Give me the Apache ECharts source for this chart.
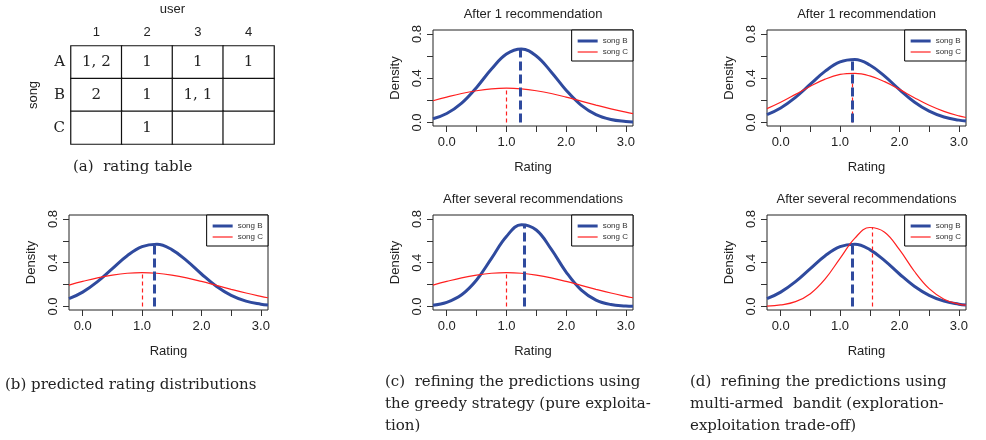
<!DOCTYPE html>
<html>
<head>
<meta charset="utf-8">
<script src="https://cdn.jsdelivr.net/npm/echarts@6/dist/echarts.min.js"></script>
<style>
html, body { margin: 0; padding: 0; background: #fff; }
#main { width: 986px; height: 440px; }
</style>
</head>
<body>
<div id="main"></div>
<script>
var dom = document.getElementById('main');
var myChart = echarts.init(dom, null, { renderer: 'canvas' });

// rating table
const users = ['1', '2', '3', '4'];
const songs = ['A', 'B', 'C'];
const ratings = [
    ['1, 2', '1', '1', '1'],
    ['2', '1', '1, 1', ''],
    ['', '1', '', '']
];

// density curves
const ratingX = [-0.23, 0, 0.25, 0.5, 0.75, 1, 1.25, 1.5, 1.75, 2, 2.25, 2.5, 2.75, 3, 3.12];
const predB    = [0.071, 0.131, 0.227, 0.346, 0.464, 0.547, 0.569, 0.520, 0.419, 0.297, 0.185, 0.102, 0.049, 0.021, 0.013];
const predC    = [0.196, 0.229, 0.262, 0.287, 0.304, 0.310, 0.304, 0.287, 0.262, 0.229, 0.193, 0.157, 0.123, 0.093, 0.080];
const greedy1B = [0.034, 0.081, 0.175, 0.317, 0.483, 0.618, 0.664, 0.601, 0.457, 0.292, 0.157, 0.071, 0.027, 0.009, 0.005];
const greedyNB = [0.012, 0.038, 0.107, 0.242, 0.440, 0.640, 0.747, 0.699, 0.524, 0.315, 0.152, 0.059, 0.018, 0.005, 0.002];
const bandit1C = [0.125, 0.182, 0.254, 0.328, 0.392, 0.434, 0.444, 0.421, 0.369, 0.299, 0.224, 0.155, 0.100, 0.059, 0.045];
const banditNC = [0.004, 0.014, 0.044, 0.117, 0.252, 0.440, 0.625, 0.722, 0.679, 0.519, 0.322, 0.163, 0.067, 0.022, 0.012];

// panels: b, c-top, c-bottom, d-top, d-bottom
const curvesB = [predB, greedy1B, greedyNB, predB, predB];
const curvesC = [predC, predC, predC, bandit1C, banditNC];
const meanB = [1.2, 1.23, 1.3, 1.2, 1.2];
const peakB = [0.57, 0.665, 0.75, 0.57, 0.57];
const meanC = [1.0, 1.0, 1.0, 1.2, 1.55];
const peakC = [0.31, 0.31, 0.31, 0.445, 0.725];
const panelTitles = ['', 'After 1 recommendation', 'After several recommendations', 'After 1 recommendation', 'After several recommendations'];

const xTicks = [0, 0.5, 1, 1.5, 2, 2.5, 3];
const xLabels = [0, 1, 2, 3];
const yTicks = [0, 0.2, 0.4, 0.6, 0.8];
const yLabels = [0, 0.4, 0.8];

const captions = [
    '(a)  rating table',
    '(b) predicted rating distributions',
    '(c)  refining the predictions using\nthe greedy strategy (pure exploita-\ntion)',
    '(d)  refining the predictions using\nmulti-armed  bandit (exploration-\nexploitation trade-off)'
];

const blue = '#2f4a9e';
const red = '#ff2020';
const sans = 'Liberation Sans, Arial, sans-serif';
const serif = 'DejaVu Serif, serif';

const boxes = [
    { left: 69, top: 215, width: 199, height: 95 },
    { left: 433, top: 30, width: 200, height: 96 },
    { left: 433, top: 215, width: 200, height: 95 },
    { left: 767, top: 30, width: 199, height: 96 },
    { left: 767, top: 215, width: 199, height: 95 }
];
const captionPos = [[73, 156], [5, 374], [385, 371], [690, 371]];

function pairs(ys) {
    return ratingX.map(function (x, i) { return [x, ys[i]]; });
}

var grid = [], xAxis = [], yAxis = [], series = [], legend = [], title = [];

boxes.forEach(function (b, i) {
    grid.push({
        left: b.left, top: b.top, width: b.width, height: b.height,
        show: true, borderColor: '#222', borderWidth: 1, backgroundColor: 'transparent'
    });
    xAxis.push({
        type: 'value', gridIndex: i, min: -0.23, max: 3.12,
        name: 'Rating', nameLocation: 'middle', nameGap: 35,
        nameTextStyle: { fontFamily: sans, fontSize: 13, color: '#222' },
        axisLine: { show: false, onZero: false },
        axisTick: { show: true, length: 6, customValues: xTicks, lineStyle: { color: '#333' } },
        axisLabel: {
            customValues: xLabels, margin: 10, fontFamily: sans, fontSize: 13, color: '#222',
            formatter: function (v) { return v.toFixed(1); }
        },
        splitLine: { show: false }
    });
    yAxis.push({
        type: 'value', gridIndex: i, min: -0.032, max: 0.836,
        name: 'Density', nameLocation: 'middle', nameGap: 31,
        nameTextStyle: { fontFamily: sans, fontSize: 13, color: '#222' },
        axisLine: { show: false, onZero: false },
        axisTick: { show: true, length: 6, customValues: yTicks, lineStyle: { color: '#333' } },
        axisLabel: {
            customValues: yLabels, rotate: 90, margin: 9, fontFamily: sans, fontSize: 13, color: '#222',
            formatter: function (v) { return v.toFixed(1); }
        },
        splitLine: { show: false }
    });
    series.push({
        name: 'song B', type: 'line', xAxisIndex: i, yAxisIndex: i,
        data: pairs(curvesB[i]), smooth: 0.4, symbol: 'none',
        lineStyle: { color: blue, width: 3 }, itemStyle: { color: blue },
        markLine: {
            silent: true, symbol: 'none', z: 6, label: { show: false },
            lineStyle: { color: blue, width: 3, type: [9, 4] },
            data: [[{ coord: [meanB[i], 0] }, { coord: [meanB[i], peakB[i]] }]]
        }
    });
    series.push({
        name: 'song C', type: 'line', xAxisIndex: i, yAxisIndex: i,
        data: pairs(curvesC[i]), smooth: 0.4, symbol: 'none',
        lineStyle: { color: red, width: 1.2 }, itemStyle: { color: red },
        markLine: {
            silent: true, symbol: 'none', z: 5, label: { show: false },
            lineStyle: { color: red, width: 1.2, type: [4, 3] },
            data: [[{ coord: [meanC[i], 0] }, { coord: [meanC[i], peakC[i]] }]]
        }
    });
    legend.push({
        data: [
            { name: 'song B', icon: 'path://M0,0h20v3H0z' },
            { name: 'song C', icon: 'path://M0,0h20v1.2H0z' }
        ],
        orient: 'vertical',
        right: 986 - (b.left + b.width), top: b.top,
        itemWidth: 20, itemHeight: 8, itemGap: 3, padding: [7, 5, 5, 6],
        symbolKeepAspect: true,
        borderColor: '#000', borderWidth: 1, backgroundColor: '#fff',
        selectedMode: false,
        textStyle: { fontFamily: sans, fontSize: 8, color: '#333' }
    });
    if (panelTitles[i]) {
        title.push({
            text: panelTitles[i], left: b.left + b.width / 2, top: b.top - 22, textAlign: 'center', padding: 0,
            textStyle: { fontFamily: sans, fontSize: 13, fontWeight: 'normal', color: '#222' }
        });
    }
});

captions.forEach(function (c, i) {
    title.push({
        text: c, left: captionPos[i][0], top: captionPos[i][1], padding: 0,
        textStyle: { fontFamily: serif, fontSize: 15, fontWeight: 'normal', color: '#222', lineHeight: 22 }
    });
});

// rating table as a heatmap grid
grid.push({ left: 71, top: 46, width: 203, height: 98 });
xAxis.push({
    type: 'category', gridIndex: 5, position: 'top', data: users,
    name: 'user', nameLocation: 'middle', nameGap: 30,
    nameTextStyle: { fontFamily: sans, fontSize: 13, color: '#222' },
    axisLine: { show: false }, axisTick: { show: false },
    axisLabel: { margin: 7, fontFamily: sans, fontSize: 13, color: '#222' },
    splitLine: { show: false }
});
yAxis.push({
    type: 'category', gridIndex: 5, data: songs, inverse: true,
    name: 'song', nameLocation: 'middle', nameGap: 31,
    nameTextStyle: { fontFamily: sans, fontSize: 13, color: '#222' },
    axisLine: { show: false }, axisTick: { show: false },
    axisLabel: { margin: 6, fontFamily: serif, fontSize: 15, color: '#222' },
    splitLine: { show: false }
});
var cells = [];
songs.forEach(function (s, r) {
    users.forEach(function (u, c) { cells.push([c, r, 1]); });
});
series.push({
    type: 'heatmap', xAxisIndex: 5, yAxisIndex: 5, data: cells,
    itemStyle: { color: '#fff', borderColor: '#111', borderWidth: 1.2 },
    emphasis: { disabled: true },
    label: {
        show: true, fontFamily: serif, fontSize: 15, color: '#222',
        formatter: function (p) { return ratings[p.data[1]][p.data[0]]; }
    }
});

var option = {
    animation: false,
    backgroundColor: '#fff',
    title: title,
    legend: legend,
    grid: grid,
    xAxis: xAxis,
    yAxis: yAxis,
    visualMap: {
        show: false, seriesIndex: series.length - 1, dimension: 2, min: 0, max: 1,
        inRange: { color: ['#fff', '#fff'] }
    },
    series: series
};

myChart.setOption(option);
window.addEventListener('resize', myChart.resize);
</script>
</body>
</html>
